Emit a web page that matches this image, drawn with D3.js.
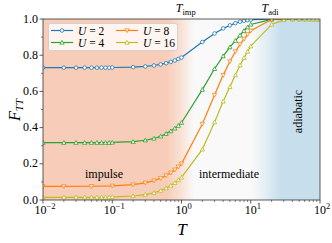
<!DOCTYPE html>
<html><head><meta charset="utf-8">
<script src="https://cdn.jsdelivr.net/npm/d3@7"></script>
<style>body{margin:0;background:#fff}svg{display:block}text{font-family:"Liberation Serif","DejaVu Serif",serif}</style>
</head><body>
<svg id="c" width="332" height="243"></svg>
<script>
// ---- data ----
const T = [0.01,0.02,0.03,0.04,0.05,0.06,0.07,0.08,0.09,
           0.1,0.2,0.3,0.4,0.5,0.6,0.7,0.8,0.9,
           1,2,3,4,5,6,7,8,9,
           10,20,30,40,50,60,70,80,90,100];
const fU2 = [0.731,0.731,0.731,0.731,0.731,0.731,0.731,0.731,0.731,
             0.732,0.734,0.738,0.743,0.749,0.756,0.763,0.771,0.779,
             0.787,0.873,0.92,0.948,0.965,0.977,0.985,0.99,0.994,
             0.996,0.9995,1,1,1,1,1,1,1,1];
const fU4 = [0.317,0.317,0.317,0.317,0.317,0.317,0.317,0.317,0.317,
             0.318,0.322,0.330,0.340,0.352,0.366,0.381,0.396,0.411,
             0.427,0.61,0.725,0.795,0.845,0.88,0.91,0.935,0.955,
             0.97,0.998,1,1,1,1,1,1,1,1];
const T8 = [0.01,0.02,0.05,0.1,0.2,0.3,0.4,0.5,0.6,0.7,0.8,0.9,
            1,2,3,4,5,6,7,8,9,10,20,30,40,50,60,70,80,90,100];
const fU8 = [0.075,0.075,0.076,0.078,0.085,0.095,0.107,0.12,0.135,0.15,0.167,0.184,
             0.2,0.42,0.58,0.69,0.765,0.82,0.86,0.89,0.915,0.935,0.997,1,1,1,1,1,1,1,1];
const fU16 = [0.015,0.015,0.015,0.015,0.015,0.015,0.015,0.015,0.015,
              0.017,0.022,0.030,0.040,0.052,0.066,0.080,0.095,0.110,
              0.125,0.28,0.43,0.545,0.625,0.69,0.745,0.785,0.82,
              0.85,0.97,0.995,1,1,1,1,1,1,1];
const seriesNames = ["U = 2","U = 4","U = 8","U = 16"];
const uVals = ["2","4","8","16"];
const xTickExps = [-2,-1,0,1,2];
const yTicks = [0.0,0.2,0.4,0.6,0.8,1.0];
const regionNames = ["impulse","intermediate","adiabatic"];
const tImp = 1.15, tAdi = 19; // label positions
const impulseEdge = [0.62, 1.5]; // fade range
const adiabaticEdge = [10.5, 27];

// ---- layout ----
const W=332,H=243, L=43, R=320, Tp=19, B=200;
const svg = d3.select("#c");
const x = d3.scaleLog().domain([0.01,100]).range([L,R]);
const y = d3.scaleLinear().domain([0,1]).range([B,Tp]);
const defs = svg.append("defs");
defs.append("clipPath").attr("id","clip").append("rect")
  .attr("x",L).attr("y",Tp).attr("width",R-L).attr("height",B-Tp);

const salmon="#f7cdb9", mid="#f9f9f9", blue="#c7dfed";
const g1 = defs.append("linearGradient").attr("id","bg").attr("gradientUnits","userSpaceOnUse")
  .attr("x1",L).attr("x2",R).attr("y1",0).attr("y2",0);
const pct = v => ((x(v)-L)/(R-L)*100)+"%";
[[0,salmon],[pct(impulseEdge[0]),salmon],[pct(Math.sqrt(impulseEdge[0]*impulseEdge[1])),"#f9e0d4"],[pct(impulseEdge[1]),mid],
 [pct(adiabaticEdge[0]),mid],[pct(Math.sqrt(adiabaticEdge[0]*adiabaticEdge[1])),"#e1edf4"],[pct(adiabaticEdge[1]),blue],["100%",blue]]
 .forEach(([o,c])=>g1.append("stop").attr("offset",typeof o==="number"?o+"%":o).attr("stop-color",c));
svg.append("rect").attr("x",L).attr("y",Tp).attr("width",R-L).attr("height",B-Tp).attr("fill","url(#bg)");

// region labels
svg.append("text").attr("x",104).attr("y",178).attr("text-anchor","middle").attr("font-size",12).text(regionNames[0]);
svg.append("text").attr("x",229).attr("y",178).attr("text-anchor","middle").attr("font-size",12).text(regionNames[1]);
svg.append("text").attr("transform","translate(302,111.5) rotate(-90)").attr("text-anchor","middle").attr("font-size",12).text(regionNames[2]);

// series
const colors=["#1f77b4","#2ca02c","#ff7f0e","#bcbd22"];
const data=[[T,fU2],[T,fU4],[T8,fU8],[T,fU16]];
const shapes=["circle","up","down","up"];
function marker(sel,shape,color,cx,cy){
  if(shape==="circle"){
    sel.append("circle").attr("cx",cx).attr("cy",cy).attr("r",1.8).attr("fill","#fff").attr("stroke",color).attr("stroke-width",0.8);
  } else {
    const s=2.1, d = shape==="up"?1:-1;
    const pts=[[cx,cy-d*s],[cx-s,cy+d*s*0.8],[cx+s,cy+d*s*0.8]];
    sel.append("path").attr("d","M"+pts.map(p=>p.join(",")).join("L")+"Z").attr("fill","#fff").attr("stroke",color).attr("stroke-width",0.8);
  }
}
const plot = svg.append("g").attr("clip-path","url(#clip)");
const line=d3.line().x(d=>x(d[0])).y(d=>y(d[1]));
data.forEach(([ts,fs],i)=>{
  const pts=ts.map((t,j)=>[t,fs[j]]);
  plot.append("path").attr("d",line(pts)).attr("fill","none").attr("stroke",colors[i]).attr("stroke-width",1.2);
  const mg=plot.append("g");
  pts.forEach(p=>marker(mg,shapes[i],colors[i],x(p[0]),y(p[1])));
});

// frame
svg.append("rect").attr("x",L).attr("y",Tp).attr("width",R-L).attr("height",B-Tp).attr("fill","none").attr("stroke","#333").attr("stroke-width",0.8);

// y axis
const ya=svg.append("g");
yTicks.forEach(v=>{
  ya.append("line").attr("x1",L-3.5).attr("x2",L).attr("y1",y(v)).attr("y2",y(v)).attr("stroke","#333").attr("stroke-width",0.8);
  ya.append("text").attr("x",L-5).attr("y",y(v)+3.5).attr("text-anchor","end").attr("font-size",12).text(v.toFixed(1));
});
d3.range(0.1,1,0.2).forEach(v=>ya.append("line").attr("x1",L-2).attr("x2",L).attr("y1",y(v)).attr("y2",y(v)).attr("stroke","#333").attr("stroke-width",0.6));

// x axis
const xa=svg.append("g");
xTickExps.forEach(e=>{
  const px=x(Math.pow(10,e));
  xa.append("line").attr("x1",px).attr("x2",px).attr("y1",B).attr("y2",B+3.5).attr("stroke","#333").attr("stroke-width",0.8);
  const t=xa.append("text").attr("x",px+2).attr("y",214).attr("text-anchor","middle").attr("font-size",12);
  t.append("tspan").text("10");
  t.append("tspan").attr("dy",-5).attr("font-size",8.5).text(e<0?"\u2212"+(-e):String(e));
  if(e<2) for(let k=2;k<10;k++){
    const mx=x(k*Math.pow(10,e));
    xa.append("line").attr("x1",mx).attr("x2",mx).attr("y1",B).attr("y2",B+2).attr("stroke","#333").attr("stroke-width",0.6);
  }
});

// axis labels
svg.append("text").attr("x",182).attr("y",235).attr("text-anchor","middle").attr("font-size",17).attr("font-style","italic").text("T");
const yl=svg.append("text").attr("transform","translate(20,110) rotate(-90)").attr("text-anchor","middle").attr("font-size",16).attr("font-style","italic");
yl.append("tspan").text("F");
yl.append("tspan").attr("dy",3).attr("font-size",11).text("TT");

// top labels
[[tImp,"imp"],[tAdi,"adi"]].forEach(([t,s])=>{
  const tx=svg.append("text").attr("x",x(t)).attr("y",12).attr("text-anchor","middle").attr("font-size",12);
  tx.append("tspan").attr("font-style","italic").text("T");
  tx.append("tspan").attr("dy",2.5).attr("font-size",8.5).text(s);
});

// legend
const lg=svg.append("g");
lg.append("rect").attr("x",48.5).attr("y",23.5).attr("width",129).attr("height",27).attr("rx",2)
  .attr("fill","rgba(255,255,255,0.8)").attr("stroke","#ccc").attr("stroke-width",0.8);
const pos=[[51,30.5],[51,42.5],[116,30.5],[116,42.5]];
seriesNames.forEach((n,i)=>{
  const [lx,ly]=pos[i];
  lg.append("line").attr("x1",lx).attr("x2",lx+22).attr("y1",ly).attr("y2",ly).attr("stroke",colors[i]).attr("stroke-width",1.2);
  marker(lg,shapes[i],colors[i],lx+11,ly);
  const t=lg.append("text").attr("x",lx+27).attr("y",ly+4).attr("font-size",11.5);
  t.append("tspan").attr("font-style","italic").text("U");
  t.append("tspan").text(" = "+uVals[i]);
});
</script>
</body></html>
